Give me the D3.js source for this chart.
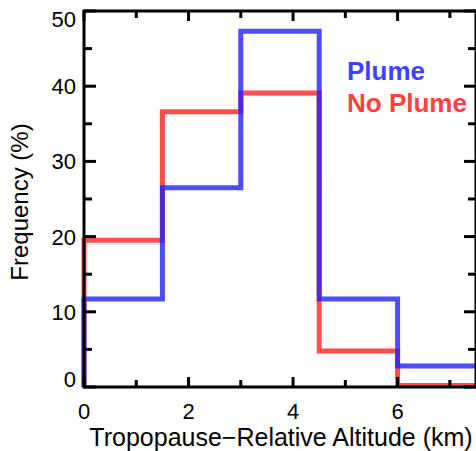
<!DOCTYPE html>
<html>
<head>
<meta charset="utf-8">
<script src="https://cdn.jsdelivr.net/npm/d3@7"></script>
<style>
  body { margin: 0; background: #fff; }
  svg { display: block; font-family: "Liberation Sans", Arial, sans-serif; }
</style>
</head>
<body>
<svg id="chart" width="476" height="451"></svg>
<script>
// bin edges (km) and frequencies (%)
var binEdges = [0, 1.5, 3, 4.5, 6, 7.5];
var plume = [11.7, 26.5, 47.3, 11.7, 2.8];
var noPlume = [19.5, 36.6, 39.1, 4.8, 0.2];
var xTicks = [0, 2, 4, 6];
var yTicks = [0, 10, 20, 30, 40, 50];

var svg = d3.select("#chart"),
    m = {left: 84, top: 11, right: 476, bottom: 387};

var x = d3.scaleLinear().domain([0, 7.5]).range([m.left, m.right]),
    y = d3.scaleLinear().domain([0, 50]).range([m.bottom, m.top]);

function steps(vals) {
  var p = [[binEdges[0], 0]];
  vals.forEach(function (v, i) {
    p.push([binEdges[i], v]);
    p.push([binEdges[i + 1], v]);
  });
  return p;
}
var line = d3.line().x(function (d) { return x(d[0]); }).y(function (d) { return y(d[1]); });

svg.append("path").attr("d", line(steps(noPlume)))
  .attr("fill", "none").attr("stroke", "#ff2020").attr("stroke-opacity", 0.8).attr("stroke-width", 5);
svg.append("path").attr("d", line(steps(plume)))
  .attr("fill", "none").attr("stroke", "#2020ff").attr("stroke-opacity", 0.8).attr("stroke-width", 5);

// axes box
var ax = svg.append("g").attr("stroke", "#000").attr("stroke-width", 3);
ax.append("rect").attr("x", m.left).attr("y", m.top)
  .attr("width", m.right - m.left).attr("height", m.bottom - m.top).attr("fill", "none");

// ticks on all four sides (major + minor)
d3.range(0, 7.51, 1).forEach(function (t) {
  var len = t % 2 === 0 ? 10 : 7;
  ax.append("line").attr("x1", x(t)).attr("x2", x(t)).attr("y1", m.bottom).attr("y2", m.bottom - len);
  ax.append("line").attr("x1", x(t)).attr("x2", x(t)).attr("y1", m.top).attr("y2", m.top + len);
});
d3.range(0, 50.1, 5).forEach(function (t) {
  var len = t % 10 === 0 ? 12 : 8;
  ax.append("line").attr("y1", y(t)).attr("y2", y(t)).attr("x1", m.left).attr("x2", m.left + len);
  ax.append("line").attr("y1", y(t)).attr("y2", y(t)).attr("x1", m.right).attr("x2", m.right - len);
});

// tick labels
svg.selectAll(".xl").data(xTicks).enter().append("text")
  .attr("x", function (d) { return x(d); }).attr("y", 419)
  .attr("text-anchor", "middle").attr("font-size", 22).text(function (d) { return d; });
svg.selectAll(".yl").data(yTicks).enter().append("text")
  .attr("x", 76)
  .attr("y", function (d) { return d === 0 ? 387 : d === 50 ? 27 : y(d) + 8; })
  .attr("text-anchor", "end").attr("font-size", 22).text(function (d) { return d; });

// axis titles
svg.append("text").attr("x", 281).attr("y", 446).attr("text-anchor", "middle")
  .attr("font-size", 25).text("Tropopause\u2212Relative Altitude (km)");
svg.append("text").attr("transform", "translate(28,202) rotate(-90)").attr("text-anchor", "middle")
  .attr("font-size", 24).text("Frequency (%)");

// legend
svg.append("text").attr("x", 347).attr("y", 80).attr("font-size", 26).attr("font-weight", "bold")
  .attr("fill", "#4040ff").text("Plume");
svg.append("text").attr("x", 347).attr("y", 112).attr("font-size", 26).attr("font-weight", "bold")
  .attr("fill", "#ff4040").text("No Plume");
</script>
</body>
</html>
